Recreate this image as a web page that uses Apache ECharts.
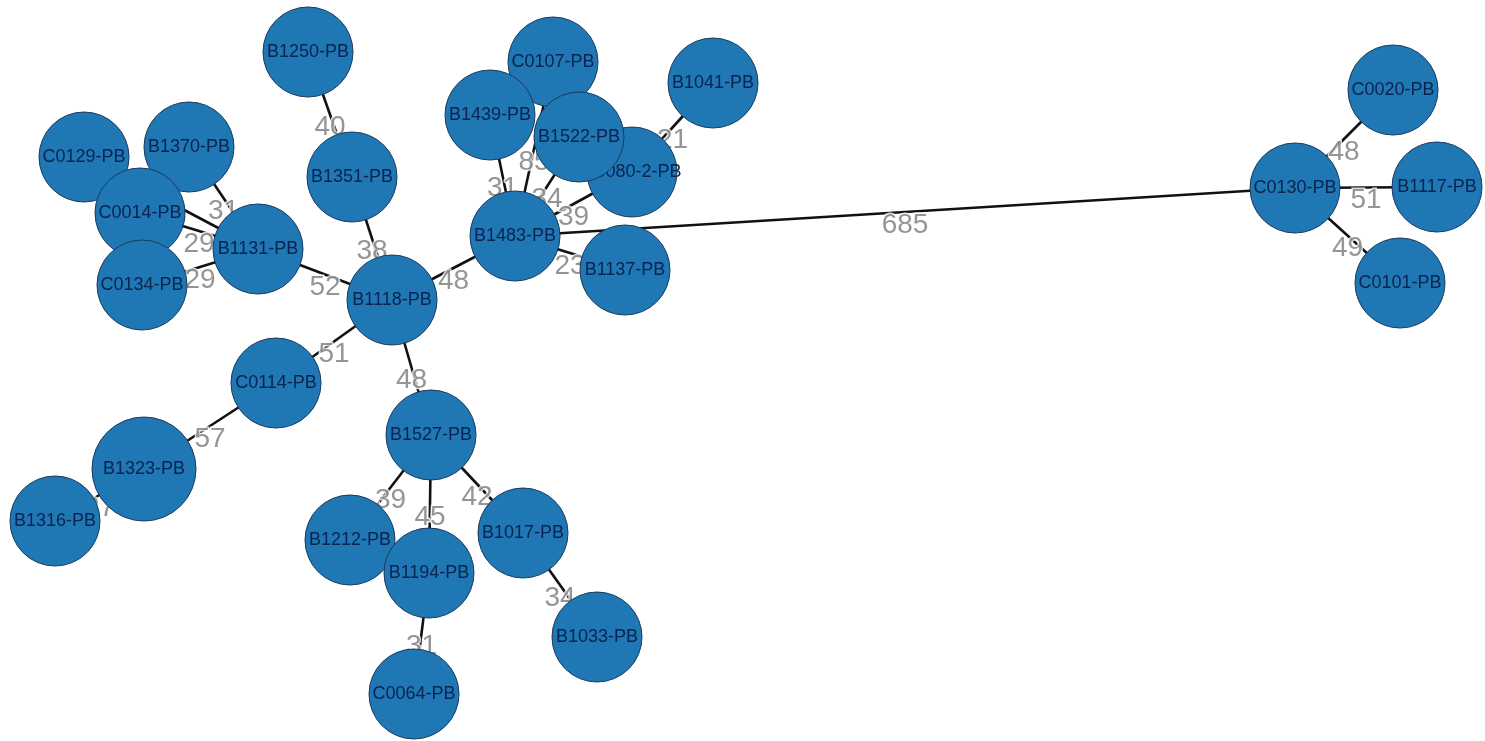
<!DOCTYPE html>
<html>
<head>
<meta charset="utf-8">
<script src="https://cdn.jsdelivr.net/npm/echarts@6/dist/echarts.min.js"></script>
<style>
  html, body { margin: 0; padding: 0; background: #ffffff; }
  #chart { width: 1485px; height: 741px; }
</style>
</head>
<body>
<div id="chart"></div>
<script>
// Isolates, listed in drawing order (later ones sit on top of earlier ones)
const isolates = [
  'C0129-PB', 'B1370-PB', 'C0014-PB', 'C0134-PB', 'B1131-PB',
  'B1250-PB', 'B1351-PB', 'B1118-PB', 'C0114-PB', 'B1323-PB', 'B1316-PB',
  'B1527-PB', 'B1212-PB', 'B1194-PB', 'B1017-PB', 'B1033-PB', 'C0064-PB',
  'C0107-PB', 'B1439-PB', 'C0080-2-PB', 'B1522-PB', 'B1041-PB', 'B1483-PB', 'B1137-PB',
  'C0130-PB', 'C0020-PB', 'B1117-PB', 'C0101-PB'
];
// nodes drawn in a second pass so they cover their neighbours' names
const overlaid = ['B1522-PB', 'B1194-PB'];

// Minimum-spanning-tree edges and their allele distances
const edgeSource = [
  'B1250-PB', 'B1351-PB', 'B1118-PB', 'B1118-PB', 'B1118-PB', 'B1118-PB',
  'C0114-PB', 'B1323-PB',
  'B1527-PB', 'B1527-PB', 'B1527-PB', 'B1017-PB', 'B1194-PB',
  'B1131-PB', 'B1131-PB', 'B1131-PB', 'B1131-PB',
  'B1483-PB', 'B1483-PB', 'B1483-PB', 'B1483-PB', 'B1483-PB', 'C0080-2-PB',
  'B1483-PB',
  'C0130-PB', 'C0130-PB', 'C0130-PB'
];
const edgeTarget = [
  'B1351-PB', 'B1118-PB', 'B1131-PB', 'B1483-PB', 'C0114-PB', 'B1527-PB',
  'B1323-PB', 'B1316-PB',
  'B1212-PB', 'B1194-PB', 'B1017-PB', 'B1033-PB', 'C0064-PB',
  'B1370-PB', 'C0129-PB', 'C0014-PB', 'C0134-PB',
  'B1439-PB', 'C0107-PB', 'B1522-PB', 'C0080-2-PB', 'B1137-PB', 'B1041-PB',
  'C0130-PB',
  'C0020-PB', 'B1117-PB', 'C0101-PB'
];
const edgeDistance = [
  40, 38, 52, 48, 51, 48,
  57, 27,
  39, 45, 42, 34, 31,
  31, 25, 29, 29,
  31, 85, 34, 39, 23, 21,
  685,
  48, 51, 49
];

// Node layout on the drawing plane (pixel units)
const layout = {
  'C0129-PB': [84, 157],   'B1370-PB': [189, 147],  'C0014-PB': [140, 213],
  'C0134-PB': [142, 285],  'B1131-PB': [258, 249],  'B1250-PB': [308, 52],
  'B1351-PB': [352, 177],  'B1118-PB': [392, 300],  'C0114-PB': [276, 383],
  'B1323-PB': [144, 469],  'B1316-PB': [55, 521],   'B1527-PB': [431, 435],
  'B1212-PB': [350, 540],  'B1194-PB': [429, 573],  'B1017-PB': [523, 533],
  'B1033-PB': [597, 637],  'C0064-PB': [414, 694],  'C0107-PB': [553, 62],
  'B1439-PB': [490, 115],  'C0080-2-PB': [632, 172], 'B1522-PB': [579, 137],
  'B1041-PB': [713, 83],   'B1483-PB': [515, 236],  'B1137-PB': [625, 270],
  'C0130-PB': [1295, 188], 'C0020-PB': [1393, 90],  'B1117-PB': [1437, 187],
  'C0101-PB': [1400, 283]
};
const nodeSize = { 'B1323-PB': 104 };
const DEFAULT_SIZE = 90;

const nodeData = isolates.map(function (name) {
  return { name: name, value: layout[name], symbolSize: nodeSize[name] || DEFAULT_SIZE };
});
const linkData = edgeSource.map(function (s, i) {
  return { source: s, target: edgeTarget[i], value: edgeDistance[i] };
});
// distance labels sit just below the midpoint of each edge
const edgeLabelData = edgeSource.map(function (s, i) {
  const a = layout[s], b = layout[edgeTarget[i]];
  return [(a[0] + b[0]) / 2, (a[1] + b[1]) / 2, edgeDistance[i]];
});

const nodeStyle = { color: '#1f77b4', borderColor: '#1a3b5e', borderWidth: 1 };
const nodeLabel = {
  show: true,
  position: 'inside',
  fontFamily: 'Liberation Sans, Arial, sans-serif',
  fontSize: 18,
  color: '#0b2350'
};

function nodeSeries(items, z) {
  return {
    type: 'graph',
    coordinateSystem: 'cartesian2d',
    z: z,
    silent: true,
    data: items,
    links: [],
    itemStyle: nodeStyle,
    label: nodeLabel
  };
}

const chart = echarts.init(document.getElementById('chart'));
chart.setOption({
  backgroundColor: '#ffffff',
  animation: false,
  grid: { left: 0, right: 0, top: 0, bottom: 0 },
  xAxis: { type: 'value', min: 0, max: 1485, show: false },
  yAxis: { type: 'value', min: 0, max: 741, inverse: true, show: false },
  series: [
    {
      // edges
      type: 'graph',
      coordinateSystem: 'cartesian2d',
      z: 1,
      silent: true,
      data: nodeData.map(function (d) { return { name: d.name, value: d.value }; }),
      symbolSize: 1,
      itemStyle: { opacity: 0 },
      label: { show: false },
      links: linkData,
      lineStyle: { color: '#111111', width: 2.6, opacity: 1, curveness: 0 }
    },
    {
      // edge distance labels
      type: 'scatter',
      z: 2,
      silent: true,
      symbolSize: 0,
      data: edgeLabelData,
      label: {
        show: true,
        position: 'inside',
        offset: [0, 13],
        formatter: function (p) { return String(p.value[2]); },
        fontFamily: 'Liberation Sans, Arial, sans-serif',
        fontSize: 28,
        color: '#7a7a7a',
        textBorderColor: '#ffffff',
        textBorderWidth: 3
      }
    },
    nodeSeries(nodeData.filter(function (d) { return overlaid.indexOf(d.name) < 0; }), 3),
    nodeSeries(nodeData.filter(function (d) { return overlaid.indexOf(d.name) >= 0; }), 4)
  ]
});
</script>
</body>
</html>
